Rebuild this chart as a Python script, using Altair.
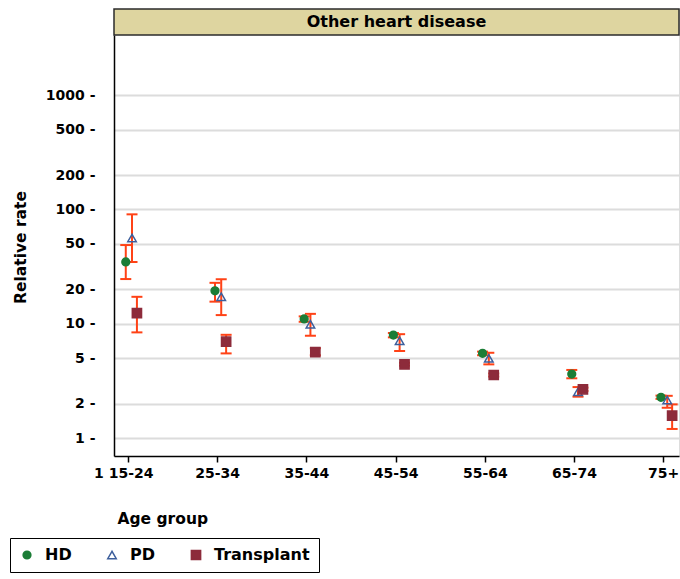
import altair as alt
import pandas as pd

panel_title = "Other heart disease"
groups = ["15-24", "25-34", "35-44", "45-54", "55-64", "65-74", "75+"]
series_names = ["HD", "PD", "Transplant"]

hd_rate = [34.7, 19.4, 11.0, 7.96, 5.51, 3.63, 2.27]
hd_lo = [24.6, 15.6, 10.4, 7.6, 5.3, 3.33, 2.2]
hd_hi = [48.8, 22.8, 11.6, 8.3, 5.7, 3.94, 2.35]

pd_rate = [56.2, 17.2, 9.9, 7.1, 4.98, 2.54, 2.15]
pd_lo = [34.7, 11.9, 7.85, 5.77, 4.41, 2.3, 1.84]
pd_hi = [90.6, 24.5, 12.2, 8.1, 5.57, 2.79, 2.34]

tx_rate = [12.4, 6.96, 5.65, 4.41, 3.56, 2.67, 1.57]
tx_lo = [8.4, 5.5, 5.3, 4.3, 3.45, 2.58, 1.2]
tx_hi = [17.2, 8.0, 6.1, 4.55, 3.67, 2.76, 1.97]

y_ticks = [1, 2, 5, 10, 20, 50, 100, 200, 500, 1000]

rows = []
for name, rate, lo, hi in [("HD", hd_rate, hd_lo, hd_hi),
                           ("PD", pd_rate, pd_lo, pd_hi),
                           ("Transplant", tx_rate, tx_lo, tx_hi)]:
    for i, g in enumerate(groups):
        rows.append({"series": name, "group": g, "idx": i + 1,
                     "rate": rate[i], "lo": lo[i], "hi": hi[i]})
df = pd.DataFrame(rows)

FONT = "DejaVu Sans"
W, H, HEADER = 565, 447, 26
ERR = "#ff4216"

label_list = ["'1  " + groups[0] + "'"] + ["'" + g + "'" for g in groups[1:]]
x_label_expr = "[" + ",".join(label_list) + "][round(datum.value) - 1]"

xscale = alt.Scale(domain=[0.843, 7.177], nice=False, zero=False)
yscale = alt.Scale(type="log", domain=[0.696, 3360], range=[H, HEADER], nice=False)

xaxis = alt.Axis(values=list(range(1, len(groups) + 1)), labelExpr=x_label_expr,
                 grid=False, tickSize=6, tickColor="black", tickWidth=1.5,
                 domainColor="black", domainWidth=1.5, labelPadding=4,
                 labelAlign={"condition": {"test": "datum.value == 1", "value": "right"}, "value": "center"},
                 labelOffset={"condition": {"test": "datum.value == 1", "value": 25}, "value": 0},
                 labelFont=FONT, labelFontWeight="bold", labelFontSize=14, labelColor="black",
                 title="Age group", titleFont=FONT, titleFontWeight="bold", titleFontSize=15.5,
                 titleColor="black", titleAlign="left", titleAnchor="start",
                 titleX=3, titleY=67, titleBaseline="alphabetic")

yaxis = alt.Axis(values=y_ticks, format="d", labelExpr="datum.label + ' -'",
                 grid=True, gridColor="#dcdcdc", gridWidth=2,
                 ticks=False, tickSize=0, labelPadding=19,
                 domainColor="black", domainWidth=1.5,
                 labelFont=FONT, labelFontWeight="bold", labelFontSize=14, labelColor="black",
                 title="Relative rate", titleFont=FONT, titleFontWeight="bold",
                 titleFontSize=15.5, titleColor="black", titleX=-86, titleY=238)

base = alt.Chart(df).transform_calculate(
    xpos="datum.idx + (datum.series == 'HD' ? -0.025 : (datum.series == 'PD' ? 0.045 : 0.1))"
)

X = alt.X("xpos:Q", scale=xscale, axis=xaxis)

header = alt.Chart(pd.DataFrame({"t": [panel_title]})).mark_rect(
    fill="#ded5a0", stroke="#2b2b2b", strokeWidth=1.5
).encode(x=alt.value(0), x2=alt.value("width"), y=alt.value(0), y2=alt.value(HEADER))

header_text = alt.Chart(pd.DataFrame({"t": [panel_title]})).mark_text(
    font=FONT, fontWeight="bold", fontSize=16, color="black", baseline="middle", align="center"
).encode(text="t:N", x=alt.value(W / 2), y=alt.value(HEADER / 2))

err = base.mark_rule(color=ERR, strokeWidth=2).encode(
    x=X, y=alt.Y("lo:Q", scale=yscale, axis=yaxis), y2="hi:Q"
)
cap_lo = base.mark_tick(color=ERR, orient="horizontal", size=11, thickness=2, opacity=1).encode(
    x=X, y=alt.Y("lo:Q", scale=yscale, axis=yaxis)
)
cap_hi = base.mark_tick(color=ERR, orient="horizontal", size=11, thickness=2, opacity=1).encode(
    x=X, y=alt.Y("hi:Q", scale=yscale, axis=yaxis)
)

legend = alt.Legend(title=None, orient="none", legendX=-104, legendY=529,
                    direction="horizontal", strokeColor="black", padding=9,
                    labelFont=FONT, labelFontWeight="bold", labelFontSize=16, labelColor="black",
                    columnPadding=32, labelOffset=10, symbolStrokeWidth=1.5)

sdom = series_names
points = base.mark_point(opacity=1, fillOpacity=1, strokeWidth=1.5).encode(
    x=X,
    y=alt.Y("rate:Q", scale=yscale, axis=yaxis),
    color=alt.Color("series:N", scale=alt.Scale(domain=sdom, range=["#1b7d36", "#3d5f9c", "#8d2b3b"]), legend=legend),
    fill=alt.Fill("series:N", scale=alt.Scale(domain=sdom, range=["#1b7d36", "rgba(0,0,0,0)", "#8d2b3b"]), legend=legend),
    shape=alt.Shape("series:N", scale=alt.Scale(domain=sdom, range=["circle", "triangle-up", "square"]), legend=legend),
    size=alt.Size("series:N", scale=alt.Scale(domain=sdom, range=[60, 85, 120]), legend=legend),
)

chart = alt.layer(header, err, cap_lo, cap_hi, points, header_text).properties(
    width=W, height=H,
    autosize=alt.AutoSizeParams(type="none"),
    padding={"left": 114, "top": 9, "right": 1, "bottom": 123},
).configure_view(stroke="#9a9a9a", strokeWidth=1.5).configure(background="white")

chart.save("out.html", embed_options={"renderer": "svg", "actions": False})
